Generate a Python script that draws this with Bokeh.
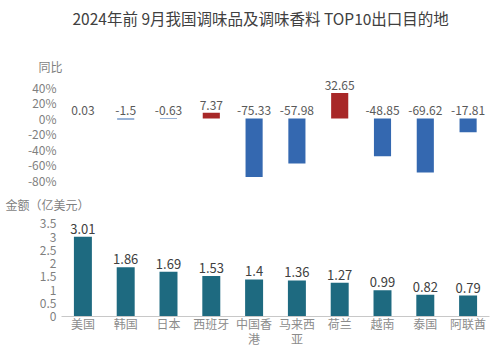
from bokeh.plotting import figure
from bokeh.layouts import column
from bokeh.models import Range1d, FixedTicker, Title, ColumnDataSource
from bokeh.core.properties import value
from bokeh.embed import file_html
from bokeh.resources import INLINE

countries = ["美国", "韩国", "日本", "西班牙", "中国香\n港", "马来西\n亚", "荷兰", "越南", "泰国", "阿联酋"]
yoy = [0.03, -1.5, -0.63, 7.37, -75.33, -57.98, 32.65, -48.85, -69.62, -17.81]
amount = [3.01, 1.86, 1.69, 1.53, 1.4, 1.36, 1.27, 0.99, 0.82, 0.79]
yoy_ticks = [40, 20, 0, -20, -40, -60, -80]
amt_ticks = [0, 0.5, 1, 1.5, 2, 2.5, 3, 3.5]

FONT = "Noto Sans CJK SC"
GRAY = "#7f7f7f"
DARK = "#404040"


def style_yaxis(p):
    p.yaxis.axis_line_color = None
    p.yaxis.major_tick_line_color = None
    p.yaxis.minor_tick_line_color = None
    p.yaxis.major_tick_out = 0
    p.yaxis.major_tick_in = 0
    p.yaxis.major_label_text_font = FONT
    p.yaxis.major_label_text_font_size = "12px"
    p.yaxis.major_label_text_color = GRAY
    p.yaxis.major_label_standoff = 5


# ---------- top: year-on-year ----------
top = figure(x_range=countries, y_range=Range1d(-87.7, 54.0), width=500, height=192,
             output_backend="svg", toolbar_location=None,
             min_border_left=61, min_border_right=11, min_border_top=0, min_border_bottom=6)
top.outline_line_color = None
top.grid.visible = False
top.xaxis.visible = False
top.yaxis.ticker = FixedTicker(ticks=yoy_ticks)
top.yaxis.major_label_overrides = {t: f"{t}%" for t in yoy_ticks}
style_yaxis(top)

colors = ["#a82828" if v > 1 else "#3468b0" for v in yoy]
lab_y = [max(v, 0) for v in yoy]
src_top = ColumnDataSource(dict(x=countries, top=yoy, color=colors,
                                ly=lab_y, txt=[f"{v:g}" for v in yoy]))
top.vbar(x="x", top="top", bottom=0, width=0.4, fill_color="color", line_color=None,
         source=src_top)
top.text(x="x", y="ly", text="txt", source=src_top, text_align="center",
         text_baseline="bottom", y_offset=-3, text_font=value(FONT),
         text_font_size="12px", text_color="#595959")

top.add_layout(Title(text="同比", align="left", offset=-23, standoff=4,
                     text_font=FONT, text_font_size="12px", text_font_style="normal",
                     text_color=GRAY), "above")
top.add_layout(Title(text=" ", align="left", standoff=2, text_font=FONT,
                     text_font_size="12px", text_color=GRAY), "above")
top.add_layout(Title(text="2024年前 9月我国调味品及调味香料 TOP10出口目的地", align="left",
                     offset=11, standoff=8, text_font=FONT, text_font_size="15.5px",
                     text_font_style="normal", text_color=DARK), "above")

# ---------- bottom: amount ----------
bot = figure(x_range=countries, y_range=Range1d(0, 3.85), width=500, height=159,
             output_backend="svg", toolbar_location=None,
             min_border_left=61, min_border_right=11, min_border_top=0, min_border_bottom=35)
bot.outline_line_color = None
bot.grid.visible = False
bot.yaxis.ticker = FixedTicker(ticks=amt_ticks)
bot.yaxis.major_label_overrides = {t: f"{t:g}" for t in amt_ticks}
style_yaxis(bot)

bot.xaxis.axis_line_color = "#c8c8c8"
bot.xaxis.major_tick_line_color = None
bot.xaxis.minor_tick_line_color = None
bot.xaxis.major_tick_out = 0
bot.xaxis.major_tick_in = 0
bot.xaxis.major_label_text_font = FONT
bot.xaxis.major_label_text_font_size = "12px"
bot.xaxis.major_label_text_color = "#8c8c8c"
bot.xaxis.major_label_standoff = -2
bot.xaxis.major_label_text_line_height = 0.9

src_bot = ColumnDataSource(dict(x=countries, top=amount, txt=[f"{v:g}" for v in amount]))
bot.vbar(x="x", top="top", bottom=0, width=0.42, fill_color="#1e6a80", line_color=None,
         source=src_bot)
bot.text(x="x", y="top", text="txt", source=src_bot, text_align="center",
         text_baseline="bottom", y_offset=-3, text_font=value(FONT),
         text_font_size="13px", text_color=DARK)

bot.add_layout(Title(text="金额（亿美元）", align="left", offset=-56, standoff=2.5,
                     text_font=FONT, text_font_size="12px", text_font_style="normal",
                     text_color=GRAY), "above")

layout = column(top, bot, spacing=0)
open("out.html", "w").write(file_html(layout, INLINE))
